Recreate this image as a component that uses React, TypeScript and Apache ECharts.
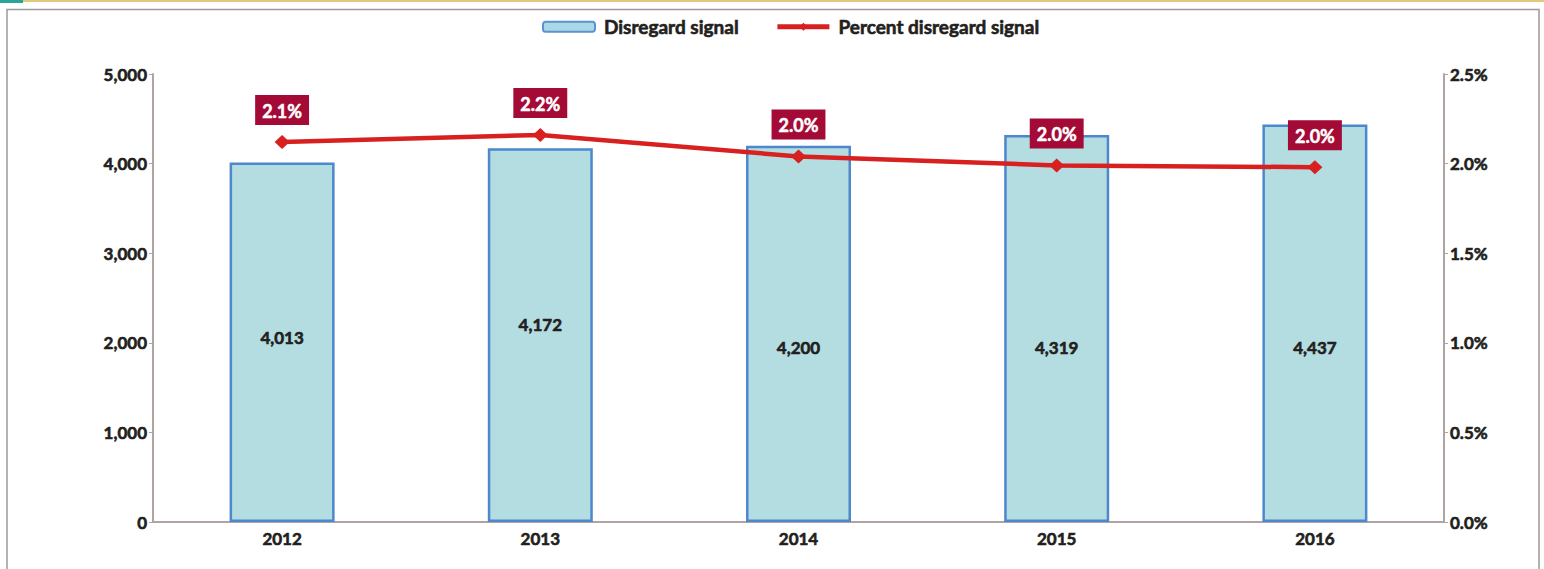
import React, { useEffect, useRef } from "react";
import * as echarts from "echarts";

const years = ["2012", "2013", "2014", "2015", "2016"];
const disregardSignal = [4013, 4172, 4200, 4319, 4437];
const percentDisregard = [2.12, 2.16, 2.04, 1.99, 1.98];
const leftTicks = { min: 0, max: 5000, interval: 1000 };
const rightTicks = { min: 0, max: 2.5, interval: 0.5 };

const FONT = "Lato, 'Open Sans', sans-serif";
const TEXT = "#231f20";
const W = "bold";
const heavy = { textBorderColor: TEXT, textBorderWidth: 0.6 };

export default function App() {
  const ref = useRef<HTMLDivElement>(null);
  useEffect(() => {
    document.body.style.margin = "0";
    const chart = echarts.init(ref.current!, null, { renderer: "svg" });
    // vertical placement of the bar value labels as seen in the reference
    const barLabelDistance = [176, 189, 166, 166, 166];
    chart.setOption({
      animation: false,
      backgroundColor: "#ffffff",
      textStyle: { fontFamily: FONT },
      graphic: [
        { type: "rect", shape: { x: 0, y: 0, width: 1544, height: 2 }, style: { fill: "#e3c77a" } },
        { type: "rect", shape: { x: 0, y: 0, width: 23, height: 3 }, style: { fill: "#2aa59a" } },
        {
          type: "rect",
          shape: { x: 7, y: 9.5, width: 1532, height: 580 },
          style: { fill: "none", stroke: "#9a9a9a", lineWidth: 1.5 },
          silent: true,
        },
      ],
      legend: {
        top: 12,
        left: 537,
        itemGap: 36,
        itemWidth: 52,
        itemHeight: 10,
        textStyle: { fontFamily: FONT, fontWeight: W, fontSize: 19, color: TEXT, padding: [0, 0, 0, 4], ...heavy },
        data: [
          {
            name: "Disregard signal",
            icon: "roundRect",
            itemStyle: { color: "#a9d8e6", borderColor: "#5a93d0", borderWidth: 2 },
          },
          {
            name: "Percent disregard signal",
            lineStyle: { width: 5, color: "#d7201f" },
          },
        ],
      },
      grid: { left: 153, right: 100, top: 74, bottom: 47, containLabel: false },
      xAxis: {
        type: "category",
        data: years,
        axisLine: { lineStyle: { color: "#b0a3a3", width: 2 } },
        axisTick: { show: false },
        axisLabel: { fontFamily: FONT, fontWeight: W, fontSize: 17, color: TEXT, margin: 8, ...heavy },
      },
      yAxis: [
        {
          type: "value",
          ...leftTicks,
          axisLine: { show: true, lineStyle: { color: "#b0a3a3", width: 2 } },
          axisTick: { show: true, length: 4, lineStyle: { color: "#b0a3a3" } },
          splitLine: { show: false },
          axisLabel: {
            fontFamily: FONT,
            fontWeight: W,
            fontSize: 17,
            color: TEXT,
            margin: 6,
            ...heavy,
            formatter: (v: number) => v.toLocaleString("en-US"),
          },
        },
        {
          type: "value",
          ...rightTicks,
          position: "right",
          axisLine: { show: true, lineStyle: { color: "#b0a3a3", width: 2 } },
          axisTick: { show: true, length: 4, lineStyle: { color: "#b0a3a3" } },
          splitLine: { show: false },
          axisLabel: {
            fontFamily: FONT,
            fontWeight: W,
            fontSize: 17,
            color: TEXT,
            margin: 6,
            ...heavy,
            formatter: (v: number) => v.toFixed(1) + "%",
          },
        },
      ],
      series: [
        {
          name: "Disregard signal",
          type: "bar",
          data: disregardSignal.map((v, i) => ({
            value: v,
            label: { distance: barLabelDistance[i] },
          })),
          barWidth: 105,
          itemStyle: { color: "#b3dde1", borderColor: "#4d88cc", borderWidth: 2.5 },
          label: {
            show: true,
            position: "insideBottom",
            fontFamily: FONT,
            fontWeight: W,
            fontSize: 17,
            color: TEXT,
            ...heavy,
            formatter: (p: any) => Number(p.value).toLocaleString("en-US"),
          },
        },
        {
          name: "Percent disregard signal",
          type: "line",
          yAxisIndex: 1,
          data: percentDisregard,
          symbol: "diamond",
          symbolSize: [15, 14],
          lineStyle: { color: "#d7201f", width: 4.5 },
          itemStyle: { color: "#d7201f" },
          label: {
            show: true,
            position: "top",
            distance: 10,
            backgroundColor: "#a30a35",
            padding: [7, 7, 5, 7],
            fontFamily: FONT,
            fontWeight: W,
            fontSize: 18,
            color: "#ffffff",
            textBorderColor: "#ffffff",
            textBorderWidth: 0.5,
            formatter: (p: any) => Number(p.value).toFixed(1) + "%",
          },
          z: 5,
        },
      ],
    });
    return () => chart.dispose();
  }, []);
  return <div ref={ref} style={{ width: 1544, height: 569, position: "absolute", left: 0, top: 0 }} />;
}
